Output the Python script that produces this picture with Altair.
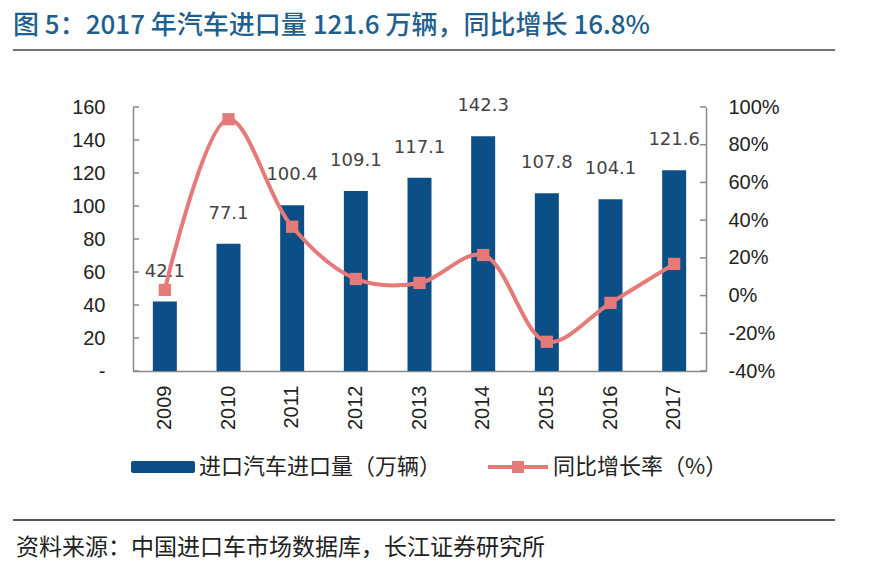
import altair as alt
import pandas as pd

years = ["2009", "2010", "2011", "2012", "2013", "2014", "2015", "2016", "2017"]
imports = [42.1, 77.1, 100.4, 109.1, 117.1, 142.3, 107.8, 104.1, 121.6]
growth = [3.0, 93.5, 36.5, 8.8, 6.7, 21.5, -24.5, -3.9, 16.8]
left_ticks = [0, 20, 40, 60, 80, 100, 120, 140, 160]
right_ticks = [-40, -20, 0, 20, 40, 60, 80, 100]

title_text = "图 5：2017 年汽车进口量 121.6 万辆，同比增长 16.8%"
source_text = "资料来源：中国进口车市场数据库，长江证券研究所"
legend_bar = "进口汽车进口量（万辆）"
legend_line = "同比增长率（%）"

W, H = 573, 264
BLUE = "#0c4f87"
PINK = "#e57a78"
CJK = "Noto Sans CJK SC"
NUM = "Liberation Sans"

df = pd.DataFrame({"year": years, "imports": imports, "growth": growth})
lt = pd.DataFrame({"imports": left_ticks})
rt = pd.DataFrame({"growth": right_ticks})
one = pd.DataFrame({"a": [1]})

yl_scale = alt.Scale(domain=[0, 160], nice=False)
yr_scale = alt.Scale(domain=[-40, 100], nice=False)

xenc = alt.X("year:N", title=None, sort=years,
             scale=alt.Scale(paddingInner=0, paddingOuter=0),
             axis=alt.Axis(labelAngle=-90, labelFontSize=20, labelFont=NUM,
                           labelColor="#222", ticks=False, labelPadding=14,
                           domainColor="#888", domainWidth=1.5))
yl_axis = alt.Axis(values=left_ticks, ticks=False, grid=False,
                   labelExpr="datum.value == 0 ? '-' : datum.label",
                   labelFontSize=20, labelFont=NUM, labelColor="#222",
                   labelPadding=28, domainColor="#888", domainWidth=1.5)
yr_axis = alt.Axis(orient="right", values=right_ticks, ticks=False, grid=False,
                   labelExpr="datum.value + '%'",
                   labelFontSize=20, labelFont=NUM, labelColor="#222",
                   labelPadding=22, domainColor="#888", domainWidth=1.5)

bars = alt.Chart(df).mark_bar(size=24, color=BLUE).encode(
    x=xenc,
    y=alt.Y("imports:Q", scale=yl_scale, title=None, axis=yl_axis),
)
bar_labels = alt.Chart(df).mark_text(dy=-30, baseline="middle", fontSize=18,
                                     font="DejaVu Sans", color="#444").encode(
    x=xenc,
    y=alt.Y("imports:Q", scale=yl_scale, title=None, axis=yl_axis),
    text=alt.Text("imports:Q", format=".1f"),
)
ltick = alt.Chart(lt).mark_rule(color="#888", strokeWidth=1.5).encode(
    y=alt.Y("imports:Q", scale=yl_scale, title=None, axis=yl_axis),
    x=alt.value(0), x2=alt.value(6),
)

line = alt.Chart(df).mark_line(color=PINK, strokeWidth=4,
                               interpolate="catmull-rom").encode(
    x=xenc,
    y=alt.Y("growth:Q", scale=yr_scale, title=None, axis=yr_axis),
)
points = alt.Chart(df).mark_point(shape="square", filled=True, size=150,
                                  color=PINK, opacity=1).encode(
    x=xenc,
    y=alt.Y("growth:Q", scale=yr_scale, title=None, axis=yr_axis),
)
rtick = alt.Chart(rt).mark_rule(color="#888", strokeWidth=1.5).encode(
    y=alt.Y("growth:Q", scale=yr_scale, title=None, axis=yr_axis),
    x=alt.value(W - 6), x2=alt.value(W),
)

# decorations (title, rules, legend, source)
title = alt.Chart(one).mark_text(align="left", baseline="middle", fontSize=26,
                                 font=CJK, fontWeight=500, color="#1f5f8e").encode(
    x=alt.value(-120), y=alt.value(-81), text=alt.value(title_text))
top_rule = alt.Chart(one).mark_rule(color="#444", strokeWidth=1.5).encode(
    x=alt.value(-120), x2=alt.value(702), y=alt.value(-57))
bot_rule = alt.Chart(one).mark_rule(color="#555", strokeWidth=2).encode(
    x=alt.value(-120), x2=alt.value(702), y=alt.value(413))
source = alt.Chart(one).mark_text(align="left", baseline="middle", fontSize=23,
                                  font=CJK, color="#222").encode(
    x=alt.value(-117), y=alt.value(441), text=alt.value(source_text))
leg_rect = alt.Chart(one).mark_rect(color=BLUE, cornerRadius=2).encode(
    x=alt.value(-2), x2=alt.value(62), y=alt.value(354), y2=alt.value(366))
leg_text1 = alt.Chart(one).mark_text(align="left", baseline="middle", fontSize=22,
                                     font=CJK, color="#222").encode(
    x=alt.value(66), y=alt.value(360), text=alt.value(legend_bar))
leg_line = alt.Chart(one).mark_rule(color=PINK, strokeWidth=4).encode(
    x=alt.value(355), x2=alt.value(415), y=alt.value(360))
leg_sq = alt.Chart(one).mark_point(shape="square", filled=True, size=144,
                                   color=PINK, opacity=1).encode(
    x=alt.value(385), y=alt.value(360))
leg_text2 = alt.Chart(one).mark_text(align="left", baseline="middle", fontSize=22,
                                     font=CJK, color="#222").encode(
    x=alt.value(420), y=alt.value(360), text=alt.value(legend_line))

left_group = alt.layer(bars, bar_labels, ltick, title, top_rule, bot_rule, source,
                       leg_rect, leg_text1, leg_line, leg_sq, leg_text2)
right_group = alt.layer(line, points, rtick)

chart = alt.layer(left_group, right_group).resolve_scale(y="independent").properties(
    width=W, height=H,
    autosize=alt.AutoSizeParams(type="none"),
    padding={"left": 125, "top": 99, "right": 135, "bottom": 190},
    background="white",
).configure_view(stroke=None).configure_axis(grid=False)

chart.save("out.html", embed_options={"renderer": "svg", "actions": False})
